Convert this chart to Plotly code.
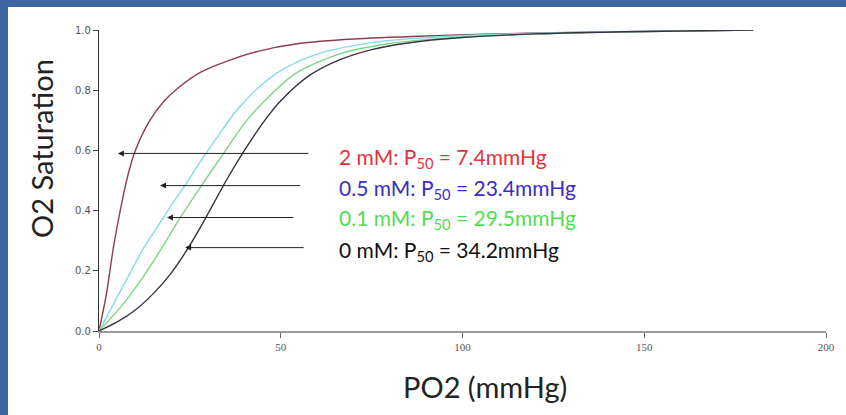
import plotly.graph_objects as go

# ---- data ----
po2_2mM = [0, 2, 4, 6, 8, 10, 14, 18, 22, 28, 36, 44, 55, 70, 90, 120, 150, 180]
sat_2mM = [0, 0.12, 0.28, 0.41, 0.52, 0.60, 0.70, 0.765, 0.81, 0.86, 0.90, 0.93, 0.955, 0.97, 0.98, 0.99, 0.995, 1.0]

po2_05mM = [0, 4, 8, 12, 16, 20, 24, 28, 32, 38, 44, 50, 60, 75, 90, 110, 140, 180]
sat_05mM = [0, 0.09, 0.18, 0.27, 0.345, 0.42, 0.49, 0.565, 0.635, 0.735, 0.81, 0.865, 0.92, 0.958, 0.975, 0.986, 0.994, 1.0]

po2_01mM = [0, 6, 11, 17, 22, 28, 34, 40, 46, 54, 66, 80, 95, 115, 140, 180]
sat_01mM = [0, 0.08, 0.16, 0.27, 0.37, 0.48, 0.585, 0.69, 0.77, 0.855, 0.92, 0.955, 0.973, 0.985, 0.993, 1.0]

po2_0mM = [0, 5, 10, 15, 20, 25, 30, 35, 40, 45, 50, 58, 66, 75, 85, 100, 120, 150, 180]
sat_0mM = [0, 0.03, 0.07, 0.125, 0.195, 0.285, 0.39, 0.50, 0.60, 0.69, 0.765, 0.85, 0.90, 0.935, 0.957, 0.975, 0.987, 0.995, 1.0]

labels = ["2 mM: P<sub>50</sub> = 7.4mmHg",
          "0.5 mM: P<sub>50</sub> = 23.4mmHg",
          "0.1 mM: P<sub>50</sub> = 29.5mmHg",
          "0 mM: P<sub>50</sub> = 34.2mmHg"]
label_colors = ["#E2333C", "#3A2DC4", "#52DD52", "#111111"]
# arrow tip (on curve) and tail
arrow_tip_x = [5.2, 16.8, 18.7, 23.7]
arrow_tail_x = [58.0, 55.8, 53.9, 56.7]
arrow_y = [0.59, 0.483, 0.377, 0.277]
label_y = [0.575, 0.472, 0.372, 0.266]
label_x = 65.5

x_ticks = [0, 50, 100, 150, 200]
y_ticks = [0.0, 0.2, 0.4, 0.6, 0.8, 1.0]

series = [
    (po2_2mM, sat_2mM, "#8E3D50"),
    (po2_05mM, sat_05mM, "#86DCE4"),
    (po2_01mM, sat_01mM, "#7FD683"),
    (po2_0mM, sat_0mM, "#3B3245"),
]

fig = go.Figure()
for xs, ys, col in series:
    fig.add_trace(go.Scatter(x=xs, y=ys, mode="lines",
                             line=dict(color=col, width=1.4, shape="spline", smoothing=0.8),
                             showlegend=False, hoverinfo="skip"))

W, H = 846, 415
L, R, T, B = 99, 20, 30, 84
pw, ph = W - L - R, H - T - B

def px_x(p):
    return (p - L) / pw

def px_y(p):
    return (H - B - p) / ph

annotations = []
for i in range(4):
    annotations.append(dict(x=arrow_tip_x[i], y=arrow_y[i], ax=arrow_tail_x[i], ay=arrow_y[i],
                            xref="x", yref="y", axref="x", ayref="y",
                            text="", showarrow=True, arrowhead=2, arrowsize=1.2,
                            arrowwidth=1, arrowcolor="#222222"))
    annotations.append(dict(x=label_x, y=label_y[i], xref="x", yref="y",
                            text=labels[i], showarrow=False, xanchor="left", yanchor="middle",
                            font=dict(family="Lato, Open Sans, sans-serif", size=21,
                                      color=label_colors[i])))

annotations.append(dict(x=px_x(41), y=px_y(149), xref="paper", yref="paper",
                        xanchor="center", yanchor="middle",
                        text="O2 Saturation", textangle=-90, showarrow=False,
                        font=dict(family="Lato, Open Sans, sans-serif", size=29, color="#222222")))
annotations.append(dict(x=px_x(485), y=px_y(386), xref="paper", yref="paper",
                        xanchor="center", yanchor="middle",
                        text="PO2 (mmHg)", showarrow=False,
                        font=dict(family="Lato, Open Sans, sans-serif", size=29, color="#222222")))

shapes = [
    dict(type="rect", xref="paper", yref="paper", x0=px_x(0), x1=px_x(W), y0=px_y(7), y1=px_y(0),
         fillcolor="#3F64A2", line=dict(width=0), layer="above"),
    dict(type="rect", xref="paper", yref="paper", x0=px_x(0), x1=px_x(8), y0=px_y(H), y1=px_y(0),
         fillcolor="#3F64A2", line=dict(width=0), layer="above"),
]

fig.update_layout(
    width=W, height=H,
    margin=dict(l=L, r=R, t=T, b=B),
    paper_bgcolor="white", plot_bgcolor="white",
    annotations=annotations, shapes=shapes,
    xaxis=dict(range=[0, 200], tickvals=x_ticks, ticktext=[str(v) for v in x_ticks],
               showgrid=False, zeroline=False, showline=True, linecolor="#9A9A9A", linewidth=2,
               ticks="outside", ticklen=5, tickcolor="#666666",
               tickfont=dict(family="Liberation Serif, serif", size=11, color="#555555")),
    yaxis=dict(range=[0, 1], tickvals=y_ticks, ticktext=["%.1f" % v for v in y_ticks],
               showgrid=False, zeroline=False, showline=True, linecolor="#333333", linewidth=1.2,
               ticks="outside", ticklen=5, tickcolor="#444444",
               tickfont=dict(family="DejaVu Sans, sans-serif", size=10, color="#555555")),
)

fig.write_html("out.html", config={"displayModeBar": False},
               post_script="document.body.style.margin='0';document.body.style.overflow='hidden';")
